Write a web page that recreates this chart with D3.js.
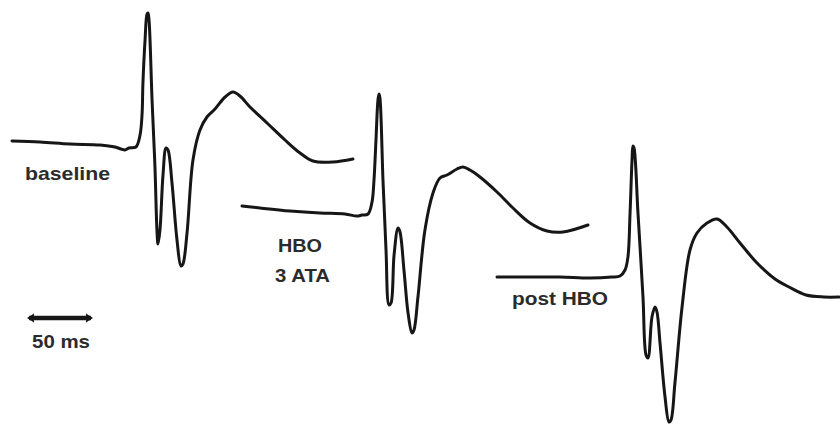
<!DOCTYPE html>
<html>
<head>
<meta charset="utf-8">
<script src="https://cdn.jsdelivr.net/npm/d3@7"></script>
<style>
  html, body { margin: 0; padding: 0; background: #ffffff; }
  svg { display: block; }
  text { font-family: "Liberation Sans", Arial, sans-serif; font-weight: bold; fill: #2b2b2b; }
</style>
</head>
<body>
<svg id="chart" width="840" height="426"></svg>
<script>
// ---------------- DATA ----------------
// time from trace start (ms)
const baselineTime = [0, 21.2, 43.9, 66.7, 78.0, 82.6, 85.6, 88.6, 93.9, 97.0, 98.5, 99.2, 100.8, 102.3, 103.0, 103.8, 106.1, 108.3, 109.8, 110.6, 112.1, 114.4, 116.7, 118.2, 121.2, 125.0, 128.0, 129.5, 132.6, 137.1, 142.4, 147.7, 153.8, 161.4, 167.4, 172.7, 180.3, 193.2, 206.8, 218.2, 228.0, 243.2, 258.3];
// amplitude relative to starting level (mV)
const baselineValue = [0, -0.01, -0.03, -0.04, -0.06, -0.08, -0.09, -0.07, -0.06, 0.06, 0.26, 0.58, 1.01, 1.27, 1.28, 1.21, 0.41, -0.26, -0.89, -1.03, -0.89, -0.34, -0.07, -0.09, -0.42, -0.99, -1.25, -1.23, -0.92, -0.19, 0.11, 0.24, 0.32, 0.44, 0.49, 0.45, 0.34, 0.18, 0.01, -0.12, -0.20, -0.21, -0.18];

const hboTime = [0, 13.6, 36.4, 59.1, 78.0, 87.1, 90.9, 95.5, 98.5, 100.0, 101.5, 103.0, 103.8, 104.5, 106.8, 109.1, 111.4, 112.9, 115.2, 118.2, 119.7, 122.7, 125.8, 128.8, 130.3, 133.3, 138.6, 144.7, 150.0, 155.3, 162.9, 167.4, 172.7, 180.3, 193.2, 205.3, 218.2, 231.1, 243.2, 262.1];
const hboValue = [0, -0.02, -0.05, -0.07, -0.08, -0.10, -0.09, -0.08, 0.04, 0.26, 0.66, 1.06, 1.12, 1.08, 0.26, -0.44, -0.99, -0.97, -0.49, -0.22, -0.26, -0.64, -1.07, -1.27, -1.24, -0.91, -0.24, 0.13, 0.28, 0.31, 0.37, 0.39, 0.36, 0.29, 0.14, -0.02, -0.17, -0.25, -0.26, -0.19];

const postTime = [0, 25.0, 47.7, 70.5, 87.1, 93.2, 97.0, 99.2, 100.8, 102.3, 103.0, 103.8, 106.8, 110.6, 112.9, 114.4, 117.4, 119.7, 121.2, 123.5, 127.3, 130.3, 131.8, 134.8, 140.2, 146.2, 151.5, 159.1, 166.7, 174.2, 184.1, 197.0, 210.6, 221.2, 234.1, 247.7, 259.1];
const postValue = [0, 0, 0, -0.01, 0, 0.01, 0.07, 0.20, 0.64, 1.17, 1.31, 1.29, 0.64, -0.20, -0.78, -0.81, -0.40, -0.30, -0.35, -0.66, -1.20, -1.45, -1.43, -1.06, -0.30, 0.27, 0.44, 0.54, 0.58, 0.50, 0.34, 0.14, -0.02, -0.10, -0.18, -0.20, -0.20];

const traceNames = ["baseline", "HBO 3 ATA", "post HBO"];
const scaleBarMs = 50;
const scaleBarLabel = "50 ms";

// ---------------- LAYOUT ----------------
const layout = {
  origins: [[12, 141], [242, 206], [497, 277]],   // where each trace starts (px)
  pxPerMs: 66 / 50,
  pxPerMv: 100
};

const svg = d3.select("#chart");

const x = d3.scaleLinear().domain([0, 50]).range([0, 50 * layout.pxPerMs]);
const y = d3.scaleLinear().domain([0, 1]).range([0, -layout.pxPerMv]);

const traces = [
  { t: baselineTime, v: baselineValue },
  { t: hboTime, v: hboValue },
  { t: postTime, v: postValue }
];

const line = d3.line()
  .x(d => x(d[0]))
  .y(d => y(d[1]))
  .curve(d3.curveCatmullRom.alpha(0.5));

traces.forEach((tr, i) => {
  const pts = tr.t.map((t, k) => [t, tr.v[k]]);
  svg.append("g")
    .attr("transform", `translate(${layout.origins[i][0]},${layout.origins[i][1]})`)
    .append("path")
    .datum(pts)
    .attr("d", line)
    .attr("fill", "none")
    .attr("stroke", "#161616")
    .attr("stroke-width", 3)
    .attr("stroke-linejoin", "round")
    .attr("stroke-linecap", "round");
});

// ---------------- LABELS ----------------
function label(txt, cx, by, w, size) {
  svg.append("text")
    .attr("x", cx).attr("y", by)
    .attr("text-anchor", "middle")
    .attr("font-size", size)
    .attr("textLength", w)
    .attr("lengthAdjust", "spacingAndGlyphs")
    .text(txt);
}
label(traceNames[0], 67.5, 180, 85, 19);
label("HBO", 300, 252, 44, 19);
label("3 ATA", 302.5, 282, 55, 19);
label(traceNames[2], 560, 305, 96, 18);

// ---------------- SCALE BAR ----------------
const sb = svg.append("g").attr("transform", "translate(27,318)");
sb.append("line")
  .attr("x1", x(0) + 2).attr("x2", x(scaleBarMs) - 2)
  .attr("y1", 0).attr("y2", 0)
  .attr("stroke", "#161616").attr("stroke-width", 4.5);
[[x(0), 1], [x(scaleBarMs), -1]].forEach(([px, dir]) => {
  sb.append("path")
    .attr("d", `M${px},0 L${px + dir * 7},-4.5 L${px + dir * 7},4.5 Z`)
    .attr("fill", "#161616");
});
label(scaleBarLabel, 61, 348, 58, 19);
</script>
</body>
</html>
